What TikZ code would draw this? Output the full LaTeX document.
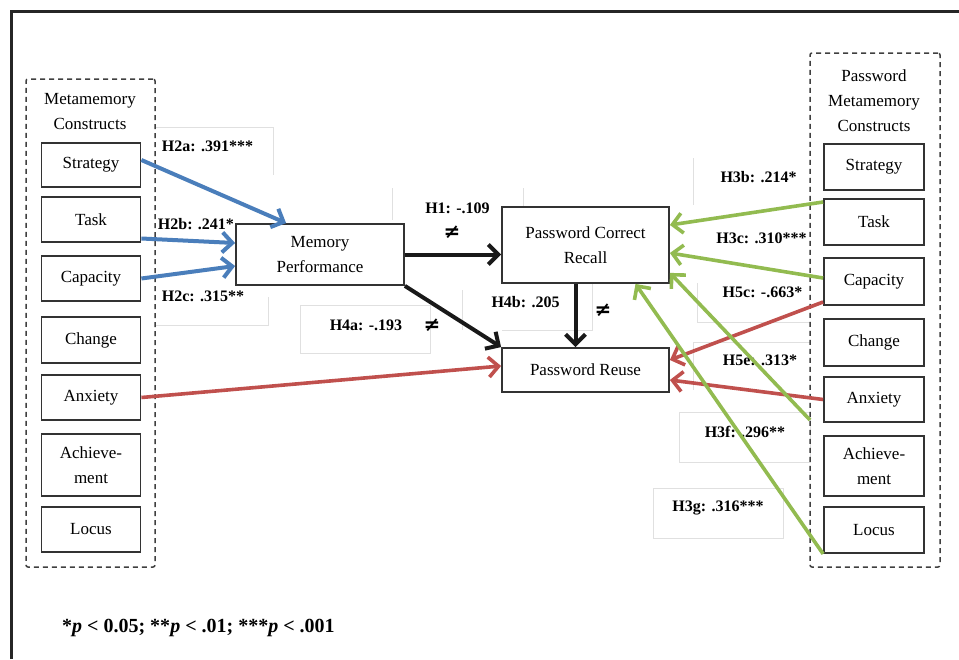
\documentclass[tikz,border=0pt]{standalone}
\usepackage{fontspec}
\setmainfont{Liberation Serif}
\newfontfamily\symfont{DejaVu Sans}
\usetikzlibrary{arrows.meta,calc}
\definecolor{cblue}{RGB}{74,126,187}
\definecolor{cgreen}{RGB}{146,187,80}
\definecolor{cred}{RGB}{192,80,77}
\begin{document}
\begin{tikzpicture}[x=1pt,y=-1pt,
 box/.style={draw=black!80,line width=1.8pt,fill=white,minimum width=99pt,minimum height=45pt,inner sep=0pt,align=center,font=\fontsize{17}{25}\selectfont},
 bigbox/.style={draw=black!80,line width=1.8pt,fill=white,inner sep=0pt,align=center,font=\fontsize{17}{25}\selectfont},
 ttl/.style={align=center,inner sep=0pt,font=\fontsize{17}{25}\selectfont},
 lbl/.style={font=\bfseries\fontsize{16}{18}\selectfont,inner sep=0pt},
 neq/.style={font=\symfont\bfseries\fontsize{20}{20}\selectfont,inner sep=0pt},
 faint/.style={draw=black!12,line width=0.8pt},
 cont/.style={draw=black!75,line width=1.5pt,dash pattern=on 5pt off 4pt,rounded corners=2pt,inner sep=0pt},
 arr/.style={line width=4pt,-{Straight Barb[length=10pt,width=20pt,line width=0pt 1]}},
 barr/.style={arr,cblue},
 garr/.style={arr,cgreen,line width=3.6pt},
 rarr/.style={arr,cred,line width=3.6pt},
 karr/.style={arr,black!90,line width=4pt}
]
\useasboundingbox (0,0) rectangle (959,659);
\draw[line width=3pt,black!85] (11,659) -- (11,11) -- (959,11);

% faint label frames
\draw[faint] (155,127) -- (273,127) -- (273,175);
\draw[faint] (155,325) -- (268,325) -- (268,297);
\draw[faint] (392,220) -- (392,188);
\draw[faint] (523,188) -- (523,207);
\draw[faint] (300,305) rectangle (430,353);
\draw[faint] (462,330) -- (462,290);
\draw[faint] (502,330) -- (592,330) -- (592,283);
\draw[faint] (693,158) -- (693,205);
\draw[faint] (697,283) -- (697,322) -- (810,322);
\draw[faint] (693,390) -- (693,342) -- (810,342);
\draw[faint] (679,412) rectangle (810,462);
\draw[faint] (653,488) rectangle (783,538);

% containers
\node[cont,minimum width=129pt,minimum height=488pt] (lgroup) at (90.5,323) {};
\node[cont,minimum width=130pt,minimum height=514pt] (rgroup) at (875,310) {};
\node[ttl] (ltitle) at (90,111.5) {Metamemory\\Constructs};
\node[ttl] (rtitle) at (874,100.5) {Password\\Metamemory\\Constructs};

% left boxes
\node[box,minimum height=44pt] (lstrat) at (91,165) {Strategy};
\node[box] (ltask) at (91,219.5) {Task};
\node[box] (lcap) at (91,278.5) {Capacity};
\node[box,minimum height=46pt] (lchange) at (91,340) {Change};
\node[box] (lanx) at (91,397.5) {Anxiety};
\node[box,minimum height=62pt] (lach) at (91,465) {Achieve-\\ment};
\node[box] (llocus) at (91,529.5) {Locus};

% right boxes
\node[box,minimum width=100pt,minimum height=46pt] (rstrat) at (874,167) {Strategy};
\node[box,minimum width=100pt,minimum height=46pt] (rtask) at (874,222) {Task};
\node[box,minimum width=100pt,minimum height=47pt] (rcap) at (874,281.5) {Capacity};
\node[box,minimum width=100pt,minimum height=47pt] (rchange) at (874,342.5) {Change};
\node[box,minimum width=100pt,minimum height=45pt] (ranx) at (874,399.5) {Anxiety};
\node[box,minimum width=100pt,minimum height=60pt] (rach) at (874,466) {Achieve-\\ment};
\node[box,minimum width=100pt,minimum height=46pt] (rlocus) at (874,530) {Locus};

% central boxes
\node[bigbox,minimum width=168pt,minimum height=61pt] (mem) at (320,254.5) {Memory\\Performance};
\node[bigbox,minimum width=167pt,minimum height=76pt] (pcr) at (585.5,245) {Password Correct\\Recall};
\node[bigbox,minimum width=167pt,minimum height=44pt] (reuse) at (585.5,370) {Password Reuse};

% labels
\node[lbl] (l2a) at (207.5,146) {H2a: .391***};
\node[lbl] (l2b) at (196,224) {H2b: .241*};
\node[lbl] (l2c) at (203,296) {H2c: .315**};
\node[lbl] (l1) at (457.5,208) {H1: -.109};
\node[neq] (n1) at (452,232) {≠};
\node[lbl] (l4a) at (366,325) {H4a: -.193};
\node[neq] (n4a) at (432,325) {≠};
\node[lbl] (l4b) at (525.5,302) {H4b: .205};
\node[neq] (n4b) at (603,310) {≠};
\node[lbl] (l3b) at (758.5,177) {H3b: .214*};
\node[lbl] (l3c) at (761.5,238) {H3c: .310***};
\node[lbl] (l5c) at (762.5,292) {H5c: -.663*};
\node[lbl] (l5e) at (760,360) {H5e: .313*};
\node[lbl] (l3f) at (745,432) {H3f: .296**};
\node[lbl] (l3g) at (718,508) {H3g: .316***};

% blue arrows
\draw[barr] ([yshift=5pt]lstrat.east) -- ([xshift=51pt]mem.north west);
\draw[barr] ([yshift=-19pt]ltask.east) -- ([yshift=11.5pt]mem.west);
\draw[barr] (lcap.east) -- ([yshift=-11.5pt]mem.west);

% black arrows
\draw[karr] (mem.east) -- (mem.east -| pcr.west);
\draw[karr] (mem.south east) -- (reuse.north west);
\draw[karr] ([xshift=-10pt]pcr.south) -- ([xshift=-10pt]reuse.north);

% red arrows
\draw[rarr] (lanx.east) -- ([yshift=4pt]reuse.west);
\draw[rarr] ([yshift=-20.5pt]rcap.west) -- ([yshift=10pt]reuse.east);
\draw[rarr] (ranx.west) -- ([yshift=-10pt]reuse.east);

% green arrows
\coordinate (gach) at (810,420);
\draw[garr] ([yshift=20pt]rtask.west) -- ([yshift=20pt]pcr.east);
\draw[garr] ([yshift=3.5pt]rcap.west) -- ([yshift=-8pt]pcr.east);
\draw[garr] (gach) -- ([yshift=11pt]pcr.south east);
\draw[garr] (rlocus.south west) -- ([xshift=50pt]pcr.south);

% footnote
\node[inner sep=0pt,anchor=west,font=\bfseries\fontsize{20}{22}\selectfont] (foot) at (62,628) {*\textit{p} < 0.05; **\textit{p} < .01; ***\textit{p} < .001};
\end{tikzpicture}
\end{document}
